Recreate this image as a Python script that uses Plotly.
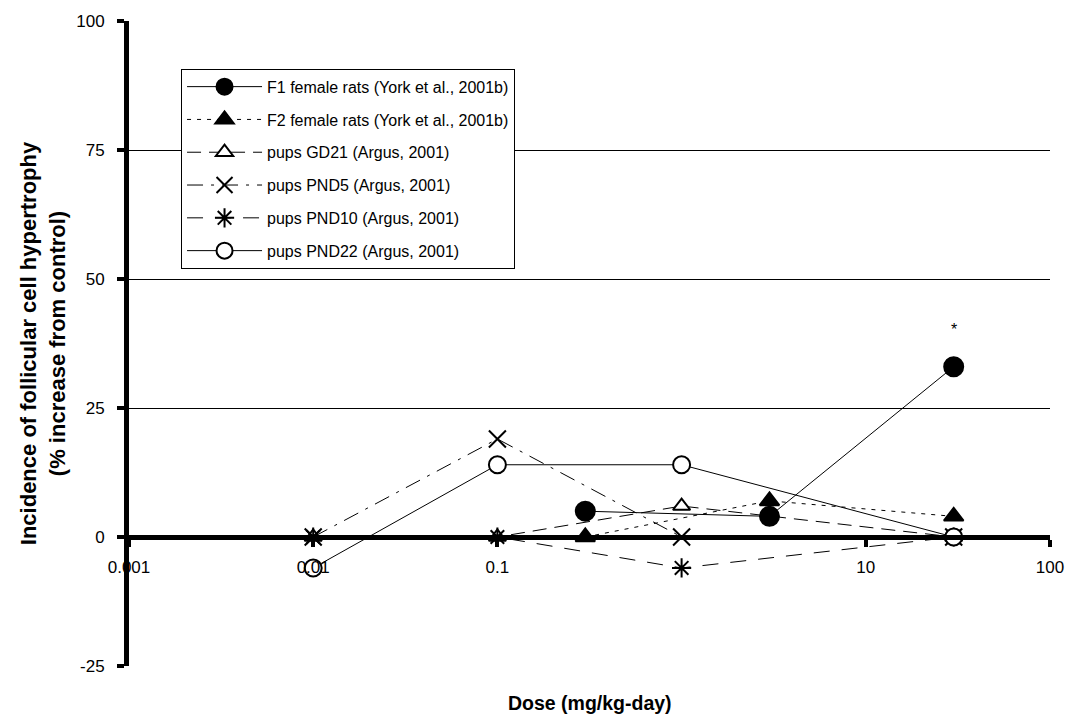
import math
import plotly.graph_objects as go

# Dose levels (mg/kg-day)
dose_york = [0.3, 3, 30]
dose_argus = [0.01, 0.1, 1, 30]

# Incidence of follicular cell hypertrophy (% increase from control)
f1_female = [5, 4, 33]
f2_female = [0, 7, 4]
pups_gd21 = [0, 0, 6, 0]
pups_pnd5 = [0, 19, 0, 0]
pups_pnd10 = [0, 0, -6, 0]
pups_pnd22 = [-6, 14, 14, 0]

y_ticks = [-25, 0, 25, 50, 75, 100]
y_tick_text = ["-25", "0", "25", "50", "75", "100"]
x_ticks = [0.001, 0.01, 0.1, 10, 100]
x_tick_text = ["0.001", "0.01", "0.1", "10", "100"]

FONT = "Arial, 'Liberation Sans', sans-serif"
BLACK = "#000000"
WHITE = "#ffffff"

series = [
    dict(name="F1 female rats (York et al., 2001b)", x=dose_york, y=f1_female,
         symbol="circle", size=19, dash="solid", color=BLACK),
    dict(name="F2 female rats (York et al., 2001b)", x=dose_york, y=f2_female,
         symbol="triangle-up", size=17, dash="4px,6px", color=BLACK),
    dict(name="pups GD21 (Argus, 2001)", x=dose_argus, y=pups_gd21,
         symbol="triangle-up", size=15, dash="14px,8px", color=WHITE),
    dict(name="pups PND5 (Argus, 2001)", x=dose_argus, y=pups_pnd5,
         symbol="x-thin-open", size=17, dash="16px,8px,3px,8px", color=BLACK),
    dict(name="pups PND10 (Argus, 2001)", x=dose_argus, y=pups_pnd10,
         symbol="asterisk-open", size=16, dash="16px,12px", color=BLACK),
    dict(name="pups PND22 (Argus, 2001)", x=dose_argus, y=pups_pnd22,
         symbol="circle", size=17, dash="solid", color=WHITE),
]

fig = go.Figure()
for i, s in enumerate(series):
    fig.add_trace(go.Scatter(
        x=s["x"], y=s["y"], name=s["name"], mode="lines+markers",
        legendgroup=f"g{i}",
        line=dict(color=BLACK, width=1, dash=s["dash"]),
        marker=dict(symbol=s["symbol"], size=s["size"], color=s["color"],
                    line=dict(color=BLACK, width=2)),
        cliponaxis=False,
    ))

# significance mark above the highest F1 dose
fig.add_annotation(x=math.log10(dose_york[-1]), y=f1_female[-1], yshift=37,
                   text="*", showarrow=False, font=dict(size=16, color=BLACK))

# x-axis title sits at the bottom of the figure, below the plotting area
fig.add_annotation(xref="paper", yref="paper", x=0.5, y=0, yshift=-37,
                   yanchor="middle", showarrow=False,
                   text="<b>Dose (mg/kg-day)</b>",
                   font=dict(family=FONT, size=19.5, color=BLACK))

y0_frac = (0 - y_ticks[0]) / (y_ticks[-1] - y_ticks[0])

fig.update_layout(
    width=1076, height=721,
    margin=dict(l=129, r=23, t=17, b=55),
    paper_bgcolor="white", plot_bgcolor="white",
    font=dict(family=FONT, size=17, color=BLACK),
    showlegend=True,
    legend=dict(
        x=0.0565, y=0.926, xanchor="left", yanchor="top",
        bgcolor="white", bordercolor=BLACK, borderwidth=1,
        font=dict(family=FONT, size=16, color=BLACK),
        tracegroupgap=9, itemwidth=75,
    ),
    xaxis=dict(
        type="log", range=[-3, 2],
        tickvals=x_ticks, ticktext=x_tick_text,
        showgrid=False, zeroline=False,
        showline=True, linecolor=BLACK, linewidth=5,
        ticks="outside", ticklen=7, tickwidth=4, tickcolor=BLACK,
        ticklabelstandoff=6,
        anchor="free", position=y0_frac,
        tickfont=dict(family=FONT, size=17, color=BLACK),
    ),
    yaxis=dict(
        range=[y_ticks[0], y_ticks[-1]], tickvals=y_ticks, ticktext=y_tick_text,
        showgrid=True, gridcolor=BLACK, gridwidth=1,
        zeroline=False,
        showline=True, linecolor=BLACK, linewidth=5,
        ticks="outside", ticklen=7, tickwidth=4, tickcolor=BLACK,
        ticklabelstandoff=9,
        tickfont=dict(family=FONT, size=17, color=BLACK),
        title=dict(text="<b>Incidence of follicular cell hypertrophy<br>(% increase from control)</b>",
                   font=dict(family=FONT, size=22, color=BLACK), standoff=6),
    ),
)

fig.write_html("out.html")
